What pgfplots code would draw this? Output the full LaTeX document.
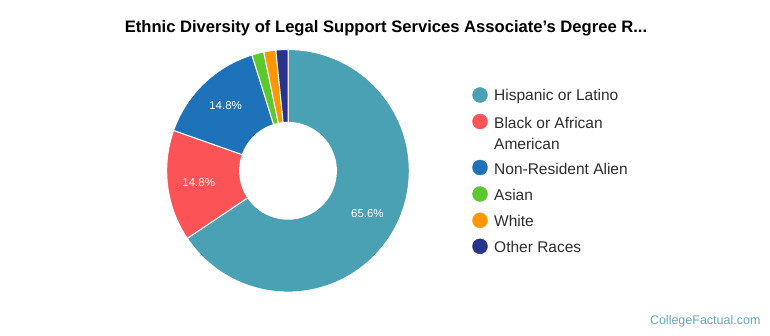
\documentclass[border=0pt]{standalone}
\usepackage{fontspec}
\setmainfont{Liberation Sans}
\usepackage{pgfplots}
\usepackage{pgfplotstable}
\pgfplotsset{compat=1.18}
\definecolor{slice0}{RGB}{74,161,180}
\definecolor{slice1}{RGB}{252,83,86}
\definecolor{slice2}{RGB}{29,114,185}
\definecolor{slice3}{RGB}{92,200,45}
\definecolor{slice4}{RGB}{254,150,0}
\definecolor{slice5}{RGB}{40,52,139}
\definecolor{wm}{RGB}{100,168,192}
\pgfplotstableread{
label value
Hispanic 65.6
Black 14.8
NonRes 14.8
Asian 1.6
White 1.6
Other 1.6
}\datatable
\tikzset{pct/.style={font=\fontsize{11.5}{13}\selectfont, text=white},
  leg/.style={font=\fontsize{15.5}{18}\selectfont, text={rgb,255:red,45;green,45;blue,45}, anchor=west, inner sep=0pt}}
\begin{document}
\begin{tikzpicture}
\begin{axis}[width=770pt, height=335pt, scale only axis,
  xmin=0, xmax=770, ymin=0, ymax=335, hide axis, clip=false]
\path (axis cs:0,0) rectangle (axis cs:770,335);
\def\cum{0}
\pgfplotsforeachungrouped \i in {0,...,5}{%
  \pgfplotstablegetelem{\i}{value}\of\datatable
  \let\val\pgfplotsretval
  \pgfmathsetmacro\aone{90-3.6*\cum}%
  \pgfmathsetmacro\cumnew{\cum+\val}%
  \pgfmathsetmacro\atwo{90-3.6*\cumnew}%
  \pgfmathsetmacro\amid{(\aone+\atwo)/2}%
  \pgfmathsetmacro\lx{288+90*cos(\amid)}%
  \pgfmathsetmacro\ly{164.2+90*sin(\amid)}%
  \edef\temp{\noexpand\addplot[fill=slice\i, draw=white, line width=1pt, domain=\atwo:\aone, samples=90] ({288+121.3*cos(x)},{164.2+121.3*sin(x)}) -- (axis cs:288,164.2) -- cycle;}%
  \temp
  \pgfmathparse{\val>5 ? 1 : 0}%
  \ifnum\pgfmathresult=1
    \edef\temp{\noexpand\node[pct] at (axis cs:\lx,\ly) {\val\noexpand\%};}%
    \temp
  \fi
  \global\let\cum\cumnew
}
\addplot[fill=white, draw=none, domain=0:360, samples=120] ({288+48.9*cos(x)},{164.2+48.9*sin(x)}) -- cycle;
% legend markers
\addplot[only marks, mark=*, mark size=7.5pt, color=slice0] coordinates {(480,240)};
\addplot[only marks, mark=*, mark size=7.5pt, color=slice1] coordinates {(480,213.5)};
\addplot[only marks, mark=*, mark size=7.5pt, color=slice2] coordinates {(480,167.5)};
\addplot[only marks, mark=*, mark size=7.5pt, color=slice3] coordinates {(480,141)};
\addplot[only marks, mark=*, mark size=7.5pt, color=slice4] coordinates {(480,114.7)};
\addplot[only marks, mark=*, mark size=7.5pt, color=slice5] coordinates {(480,88.7)};
\node[leg] at (axis cs:494,239) {Hispanic or Latino};
\node[leg] at (axis cs:494,212.5) {Black or African};
\node[leg] at (axis cs:494,191.5) {American};
\node[leg] at (axis cs:494,166.5) {Non-Resident Alien};
\node[leg] at (axis cs:494,140) {Asian};
\node[leg] at (axis cs:494,113.7) {White};
\node[leg] at (axis cs:494,87.7) {Other Races};
\node[font=\fontsize{16.6}{19}\selectfont\bfseries, text=black] at (axis cs:386,307) {Ethnic Diversity of Legal Support Services Associate's Degree R...};
\node[font=\fontsize{12.5}{15}\selectfont, text=wm, anchor=east] at (axis cs:764,14) {CollegeFactual.com};
\end{axis}
\end{tikzpicture}
\end{document}
